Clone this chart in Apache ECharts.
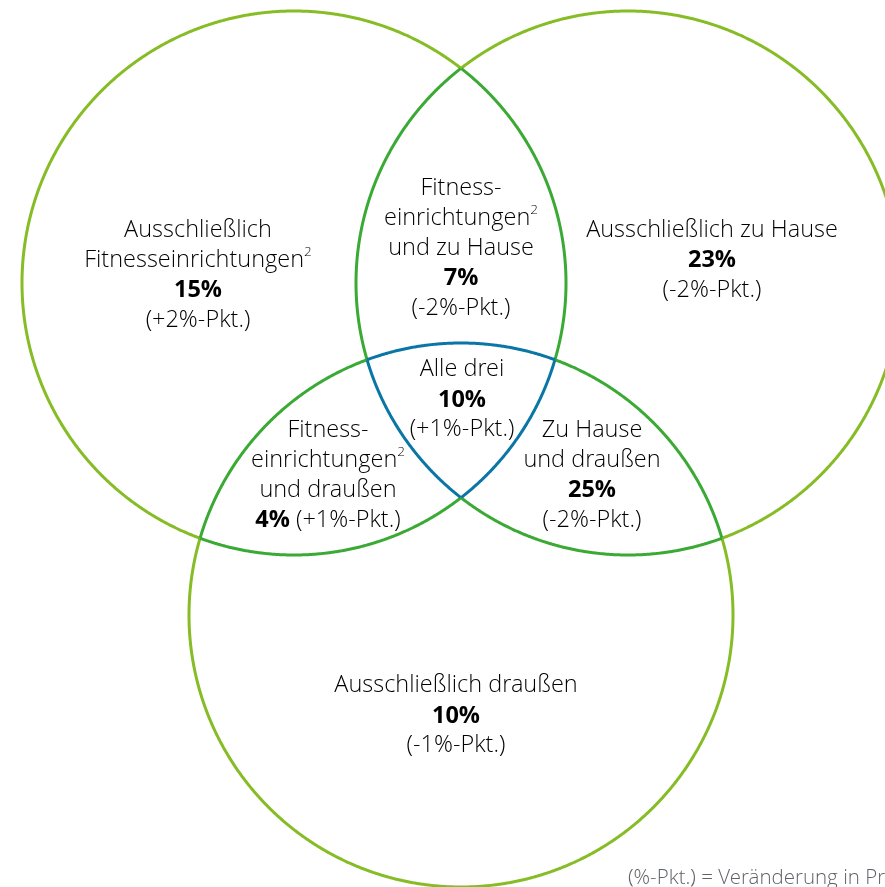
<!DOCTYPE html>
<html>
<head>
<meta charset="utf-8">
<script src="https://cdn.jsdelivr.net/npm/echarts@6/dist/echarts.min.js"></script>
<style>
  html, body { margin: 0; padding: 0; background: #ffffff; }
  #chart { width: 885px; height: 887px; }
</style>
</head>
<body>
<div id="chart"></div>
<script>
// Sets of the Venn diagram (where people work out)
const sets = ['Fitnesseinrichtungen', 'Zu Hause', 'Draußen'];

// Regions: label lines, share of respondents (%) and change (%-points)
const regionLines = [
  ['Ausschließlich', 'Fitnesseinrichtungen²'],
  ['Fitness-', 'einrichtungen²', 'und zu Hause'],
  ['Ausschließlich zu Hause'],
  ['Alle drei'],
  ['Fitness-', 'einrichtungen²', 'und draußen'],
  ['Zu Hause', 'und draußen'],
  ['Ausschließlich draußen']
];
const shares = [15, 7, 23, 10, 4, 25, 10];
const changes = [2, -2, -2, 1, 1, -2, -1];

const footnote = '(%-Pkt.) = Veränderung in Prozentpunkten';

// Layout (in the hidden coordinate space of the grid)
const circleCenters = [[294, 283], [628, 283], [461, 615]];
const circleRadius = 272;
const labelAnchors = [[198, 275.5], [461, 248.5], [712, 260.5], [462, 400], [328, 475.5], [592, 475.5], [456, 716]];
const inlineChange = [false, false, false, false, true, false, false];

const FONT = '"Open Sans Light", "Open Sans", "Noto Sans", sans-serif';
const FONT_BOLD = '"Open Sans", "Noto Sans", sans-serif';
const arcColors = ['#86BC25', '#3AAA35', '#0A76A6'];

function changeText(v) {
  return '(' + (v > 0 ? '+' : '') + v + '%-Pkt.)';
}

function regionText(i) {
  const lines = regionLines[i].map(function (l) {
    return '{n|' + l.replace('²', '}{s|2}{n|') + '}';
  });
  const share = '{b|' + shares[i] + '%}';
  if (inlineChange[i]) {
    lines.push(share + '{n| ' + changeText(changes[i]) + '}');
  } else {
    lines.push(share);
    lines.push('{n|' + changeText(changes[i]) + '}');
  }
  return lines.join('\n');
}

const richStyles = {
  n: { fontFamily: FONT, fontSize: 23.5, fontWeight: 300, color: '#5F6266', lineHeight: 30 },
  s: { fontFamily: FONT, fontSize: 13.5, fontWeight: 300, color: '#5F6266', lineHeight: 27, verticalAlign: 'top' },
  b: { fontFamily: FONT_BOLD, fontSize: 23.5, fontWeight: 700, color: '#3A3B40', lineHeight: 30 }
};

// Count how many of the other circles contain a point
function coverCount(px, py, self) {
  let c = 0;
  for (let k = 0; k < circleCenters.length; k++) {
    if (k === self) continue;
    const dx = px - circleCenters[k][0], dy = py - circleCenters[k][1];
    if (dx * dx + dy * dy < circleRadius * circleRadius) c++;
  }
  return c;
}

// Draw each circle as arcs coloured by how many other sets they lie in
function renderCircle(params, api) {
  const idx = params.dataIndex;
  const cx = circleCenters[idx][0], cy = circleCenters[idx][1];
  const N = 1440;
  const pts = [], cls = [];
  for (let s = 0; s <= N; s++) {
    const a = s / N * Math.PI * 2;
    const x = cx + circleRadius * Math.cos(a), y = cy + circleRadius * Math.sin(a);
    pts.push(api.coord([x, y]));
    const am = (s + 0.5) / N * Math.PI * 2;
    cls.push(coverCount(cx + circleRadius * Math.cos(am), cy + circleRadius * Math.sin(am), idx));
  }
  const children = [];
  let start = 0;
  for (let s = 1; s <= N; s++) {
    if (s === N || cls[s] !== cls[start]) {
      children.push({
        type: 'polyline',
        shape: { points: pts.slice(start, s + 1) },
        style: { stroke: arcColors[cls[start]], lineWidth: 3, fill: null },
        z2: cls[start]
      });
      start = s;
    }
  }
  return { type: 'group', children: children };
}

function renderLabel(params, api) {
  const i = params.dataIndex;
  const p = api.coord([api.value(0), api.value(1)]);
  return {
    type: 'text',
    x: p[0],
    y: p[1],
    style: {
      text: regionText(i),
      rich: richStyles,
      align: 'center',
      verticalAlign: 'middle',
      textAlign: 'center'
    },
    z2: 10
  };
}

const chart = echarts.init(document.getElementById('chart'), null, { renderer: 'canvas' });
chart.setOption({
  animation: false,
  backgroundColor: '#ffffff',
  grid: { left: 0, right: 0, top: 0, bottom: 0 },
  xAxis: { type: 'value', min: 0, max: 885, show: false },
  yAxis: { type: 'value', min: 0, max: 887, inverse: true, show: false },
  series: [
    {
      type: 'custom',
      name: 'Kreise',
      renderItem: renderCircle,
      data: sets.map(function (s, i) { return { name: s, value: circleCenters[i] }; }),
      silent: true
    },
    {
      type: 'custom',
      name: 'Bereiche',
      renderItem: renderLabel,
      data: labelAnchors.map(function (p, i) { return { name: regionLines[i].join(' '), value: p }; }),
      silent: true
    }
  ],
  graphic: [{
    type: 'text',
    left: 628,
    top: 868,
    style: { text: footnote, font: '300 20.5px ' + FONT, fill: '#5F6266' }
  }]
});
</script>
</body>
</html>
